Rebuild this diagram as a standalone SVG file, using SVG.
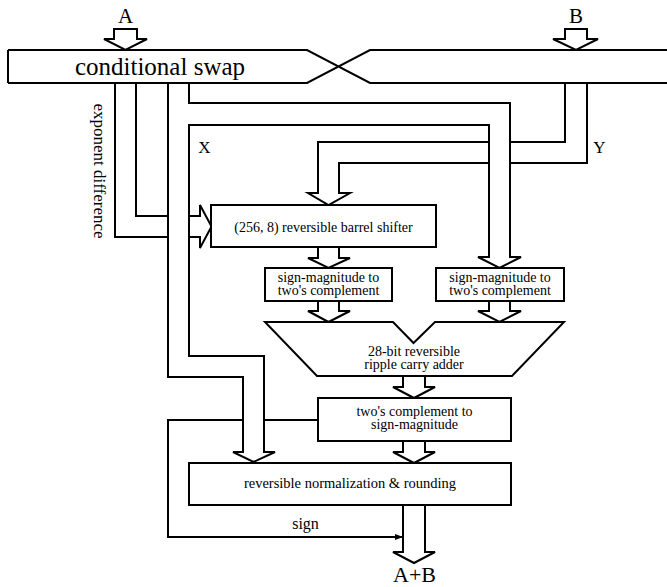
<svg xmlns="http://www.w3.org/2000/svg" width="667" height="587" viewBox="0 0 667 587">
<style>
.ln{fill:none;stroke:#000;stroke-width:2;stroke-linejoin:miter}
.bx{fill:#fff;stroke:#000;stroke-width:2}
.t{fill:#000;text-anchor:middle}
.s{font-size:14px}
.m{font-size:17px}
.l{font-size:21px}
</style>
<defs>
<marker id="ah" markerWidth="8" markerHeight="6" refX="8" refY="3" orient="auto" markerUnits="userSpaceOnUse">
<path d="M0,0 L8,3 L0,6 Z" fill="#000"/>
</marker>
</defs>
<rect width="667" height="587" fill="#fff"/>

<g font-family="Liberation Serif, Tinos, DejaVu Serif, serif">
<g id="input-a">
<polygon class="ln" points="114,29 137,29 137,39 147,39 125.5,50 104,39 114,39"/>
<text class="t l" x="125.5" y="23">A</text>
</g>
<g id="input-b">
<polygon class="ln" points="565,29 587,29 587,39 598,39 576,50 553,39 565,39"/>
<text class="t l" x="576" y="23">B</text>
</g>

<g id="swap">
<path class="ln" d="M8,50 H307 L370,83 H667 M8,83 H307 L370,50 H667 M8,50 V83"/>
<text class="t" x="160" y="75" font-size="25">conditional swap</text>
</g>

<g id="connectors">
<path class="ln" d="M115,83 V237 H168 M189,237 H200 V248 L211.5,226.5 L200,205 V216 H189 M168,216 H136 V83"/>
<path class="ln" d="M168,83 V377 H243 V452 H233 L253.5,462 L275,452 H264 V356 H189 V125 H489 V257 H478 L499.5,268 L521,257 H510 V103 H189 V83"/>
<path class="ln" d="M565,83 V142 H510 M489,142 H318 V193 H308 L328.5,205 L350,193 H339 V163 H489 M510,163 H587 V83"/>
<path class="ln" d="M318,247 V258 H308 L328.5,268 L350,258 H339 V247"/>
<path class="ln" d="M318,301 V311 H308 L328.5,322 L350,311 H339 V301"/>
<path class="ln" d="M489,301 V311 H478 L499.5,322 L521,311 H510 V301"/>
<path class="ln" d="M403,376 V387 H393 L414,398 L435,387 H425 V376"/>
<path class="ln" d="M403,441 V452 H393 L414,463 L435,452 H425 V441"/>
<path class="ln" d="M403,505 V552 H393 L414,563 L435,552 H425 V505"/>
<path class="ln" d="M318,420 H264 M243,420 H168 V537 H403" marker-end="url(#ah)"/>
</g>

<g id="barrel">
<rect class="bx" x="211" y="205" width="225" height="42"/>
<text class="t s" x="323.5" y="232" font-size="14.5">(256, 8) reversible barrel shifter</text>
</g>
<g id="sm-left">
<rect class="bx" x="265" y="268" width="127" height="33"/>
<text class="t s" x="328.5" y="282">sign-magnitude to</text>
<text class="t s" x="328.5" y="295">two's complement</text>
</g>
<g id="sm-right">
<rect class="bx" x="436" y="268" width="128" height="33"/>
<text class="t s" x="500" y="282">sign-magnitude to</text>
<text class="t s" x="500" y="295">two's complement</text>
</g>
<g id="adder">
<polygon class="bx" points="265,322 393,322 413.5,343 435,322 564,322 512,376 317,376"/>
<text class="t s" x="414" y="356">28-bit reversible</text>
<text class="t s" x="414" y="369">ripple carry adder</text>
</g>
<g id="tc2sm">
<rect class="bx" x="318" y="398" width="193" height="43"/>
<text class="t s" x="414.5" y="416">two's complement to</text>
<text class="t s" x="414.5" y="429">sign-magnitude</text>
</g>
<g id="norm">
<rect class="bx" x="189" y="463" width="322" height="42"/>
<text class="t" x="350" y="488" font-size="14.5">reversible normalization &amp; rounding</text>
</g>

<g id="labels">
<text class="t m" x="98" y="171" transform="rotate(90 98 171)" dominant-baseline="middle">exponent difference</text>
<text class="t m" x="204.5" y="153">X</text>
<text class="t m" x="599.5" y="153">Y</text>
<text class="t" x="305.5" y="529" font-size="16">sign</text>
<text class="t" x="414.5" y="582" font-size="22">A+B</text>
</g>
</g>
</svg>
